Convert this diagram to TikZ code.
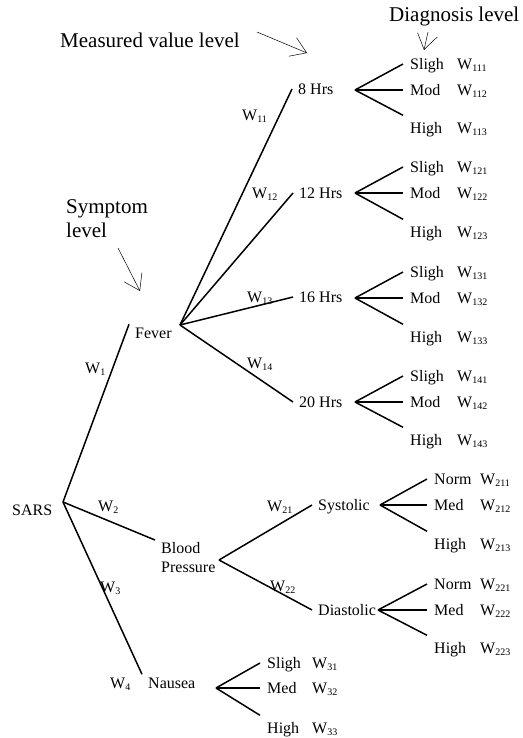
\documentclass[tikz,border=0pt]{standalone}
\usepackage{fontspec}
\setmainfont{Liberation Serif}
\usetikzlibrary{arrows.meta}

\newcommand{\wgt}[1]{W\raisebox{-2pt}{\fontsize{10}{10}\selectfont #1}}

\begin{document}
\begin{tikzpicture}[
  x=1pt, y=-1pt,
  every node/.style={inner sep=0pt, font=\fontsize{16}{19}\selectfont},
  item/.style={anchor=west, inner xsep=6pt, inner ysep=3pt, text height=11pt, text depth=0pt},
  leaf/.style={anchor=west, inner xsep=7pt, inner ysep=7pt, text height=11pt, text depth=0pt},
  wt/.style={anchor=west, text height=11pt, text depth=0pt},
  level/.style={align=left, font=\fontsize{21}{24}\selectfont},
  edge/.style={draw, line width=1.5pt},
  arrow/.style={draw, line width=0.5pt, -{Straight Barb[length=15pt, width=20pt]}}]

  \useasboundingbox (0,0) rectangle (522,738);

  % level captions
  \node[level, anchor=west] (mvl) at (60,40) {Measured value level};
  \node[level, anchor=west] (dgl) at (389,16) {Diagnosis level};
  \node[level, anchor=north west] (sym) at (66,199) {Symptom\\level};

  \coordinate (mvtail) at (257,32);  \coordinate (mvtip) at (307,53);
  \coordinate (dgtail) at (428,32);  \coordinate (dgtip) at (424,50);
  \coordinate (smtail) at (118,248); \coordinate (smtip) at (140,291);

  \draw[arrow] (mvtail) -- (mvtip);
  \draw[arrow] (dgtail) -- (dgtip);
  \draw[arrow] (smtail) -- (smtip);

  % symptoms
  \node[item] (sars)   at (6,510)   {SARS};
  \node[item] (fever)  at (129,333) {Fever};
  \node[anchor=north west, inner xsep=6pt, inner ysep=2pt, align=left] (bp) at (155,540) {Blood\\Pressure};
  \node[item] (nausea) at (142,683) {Nausea};

  \coordinate (sarsv)  at (63,502);
  \coordinate (feverv) at (180,325);
  \coordinate (bpv)    at (219,560);
  \coordinate (nausv)  at (216,688);

  \node[wt] (w1) at (85,368)  {\wgt{1}};
  \node[wt] (w2) at (98,506)  {\wgt{2}};
  \node[wt] (w3) at (100,587) {\wgt{3}};
  \node[wt] (w4) at (110,683) {\wgt{4}};

  \draw[edge] (sarsv) -- (fever.north west);
  \draw[edge] (sarsv) -- (bp.north west);
  \draw[edge] (sarsv) -- (nausea.north west);

  % measured values
  \node[item] (h8)  at (292,89)  {8 Hrs};
  \node[item] (h12) at (293,193) {12 Hrs};
  \node[item] (h16) at (293,297) {16 Hrs};
  \node[item] (h20) at (293,402) {20 Hrs};
  \node[item] (sys) at (312,505) {Systolic};
  \node[item] (dia) at (312,610) {Diastolic};

  \coordinate (h8v)  at (355,90);
  \coordinate (h12v) at (355,193);
  \coordinate (h16v) at (355,298);
  \coordinate (h20v) at (355,402);
  \coordinate (sysv) at (380,505);
  \coordinate (diav) at (378,610);

  \node[wt] (w11) at (242,115) {\wgt{11}};
  \node[wt] (w12) at (252,193) {\wgt{12}};
  \node[wt] (w13) at (247,297) {\wgt{13}};
  \node[wt] (w14) at (247,363) {\wgt{14}};
  \node[wt] (w21) at (267,506) {\wgt{21}};
  \node[wt] (w22) at (270,586) {\wgt{22}};

  \draw[edge] (feverv) -- (h8.west);
  \draw[edge] (feverv) -- (h12.west);
  \draw[edge] (feverv) -- (h16.west);
  \draw[edge] (feverv) -- (h20.west);
  \draw[edge] (bpv) -- (sys.west);
  \draw[edge] (bpv) -- (dia.west);

  % diagnoses
  \node[leaf] (l111) at (403,64)  {Sligh}; \node[wt] (w111) at (457,64)  {\wgt{111}};
  \node[leaf] (l112) at (403,90)  {Mod};   \node[wt] (w112) at (457,90)  {\wgt{112}};
  \node[leaf] (l113) at (403,128) {High};  \node[wt] (w113) at (457,128) {\wgt{113}};

  \node[leaf] (l121) at (403,167) {Sligh}; \node[wt] (w121) at (457,167) {\wgt{121}};
  \node[leaf] (l122) at (403,193) {Mod};   \node[wt] (w122) at (457,193) {\wgt{122}};
  \node[leaf] (l123) at (403,232) {High};  \node[wt] (w123) at (457,232) {\wgt{123}};

  \node[leaf] (l131) at (403,272) {Sligh}; \node[wt] (w131) at (457,272) {\wgt{131}};
  \node[leaf] (l132) at (403,298) {Mod};   \node[wt] (w132) at (457,298) {\wgt{132}};
  \node[leaf] (l133) at (403,337) {High};  \node[wt] (w133) at (457,337) {\wgt{133}};

  \node[leaf] (l141) at (403,376) {Sligh}; \node[wt] (w141) at (457,376) {\wgt{141}};
  \node[leaf] (l142) at (403,402) {Mod};   \node[wt] (w142) at (457,402) {\wgt{142}};
  \node[leaf] (l143) at (403,440) {High};  \node[wt] (w143) at (457,440) {\wgt{143}};

  \node[leaf] (l211) at (427,479) {Norm};  \node[wt] (w211) at (480,479) {\wgt{211}};
  \node[leaf] (l212) at (427,505) {Med};   \node[wt] (w212) at (480,505) {\wgt{212}};
  \node[leaf] (l213) at (427,544) {High};  \node[wt] (w213) at (480,544) {\wgt{213}};

  \node[leaf] (l221) at (427,584) {Norm};  \node[wt] (w221) at (480,584) {\wgt{221}};
  \node[leaf] (l222) at (427,610) {Med};   \node[wt] (w222) at (480,610) {\wgt{222}};
  \node[leaf] (l223) at (427,648) {High};  \node[wt] (w223) at (480,648) {\wgt{223}};

  \node[leaf] (l31) at (260,663) {Sligh};  \node[wt] (w31) at (312,663) {\wgt{31}};
  \node[leaf] (l32) at (260,688) {Med};    \node[wt] (w32) at (312,688) {\wgt{32}};
  \node[leaf] (l33) at (260,728) {High};   \node[wt] (w33) at (312,728) {\wgt{33}};

  \draw[edge] (h8v) -- (l111.west);  \draw[edge] (h8v) -- (l112.west);  \draw[edge] (h8v) -- (l113.north west);
  \draw[edge] (h12v) -- (l121.west); \draw[edge] (h12v) -- (l122.west); \draw[edge] (h12v) -- (l123.north west);
  \draw[edge] (h16v) -- (l131.west); \draw[edge] (h16v) -- (l132.west); \draw[edge] (h16v) -- (l133.north west);
  \draw[edge] (h20v) -- (l141.west); \draw[edge] (h20v) -- (l142.west); \draw[edge] (h20v) -- (l143.north west);
  \draw[edge] (sysv) -- (l211.west); \draw[edge] (sysv) -- (l212.west); \draw[edge] (sysv) -- (l213.north west);
  \draw[edge] (diav) -- (l221.west); \draw[edge] (diav) -- (l222.west); \draw[edge] (diav) -- (l223.north west);
  \draw[edge] (nausv) -- (l31.west); \draw[edge] (nausv) -- (l32.west); \draw[edge] (nausv) -- (l33.north west);

\end{tikzpicture}
\end{document}
